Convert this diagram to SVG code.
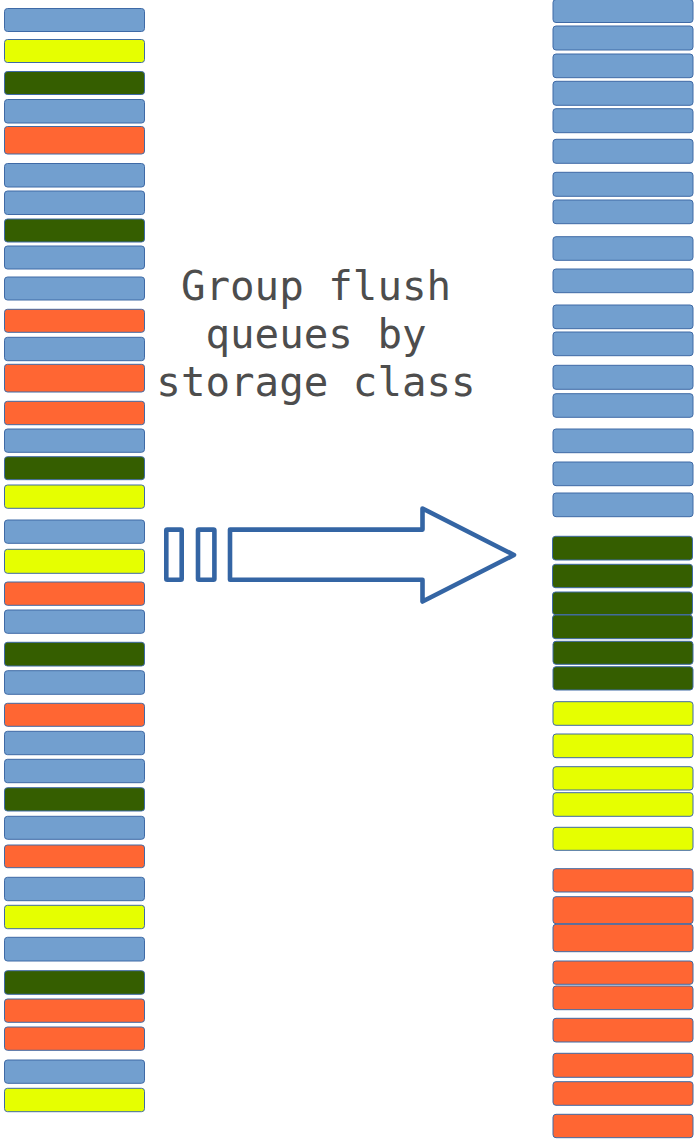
<svg xmlns="http://www.w3.org/2000/svg" width="695" height="1140" viewBox="0 0 695 1140">
<style>
rect.q{stroke:#3f6aa6;stroke-width:1;rx:3;ry:3}
.b{fill:#729fcf}
.g{fill:#355e00}
.y{fill:#e6ff00}
.o{fill:#ff6633}
.lbl{font-family:"DejaVu Sans Mono","Liberation Mono",monospace;font-size:40.8px;fill:#4d4d4d;text-anchor:middle}
.arr{fill:#fff;stroke:#3465a4;stroke-width:4.6;stroke-linejoin:round}
</style>
<rect width="695" height="1140" fill="#fff"/>
<g id="left-queues">
<rect class="q b" x="4.5" y="8.5" width="140" height="23"/>
<rect class="q y" x="4.5" y="39.5" width="140" height="23"/>
<rect class="q g" x="4.5" y="71.5" width="140" height="23"/>
<rect class="q b" x="4.5" y="99.5" width="140" height="23.5"/>
<rect class="q o" x="4.5" y="126.5" width="140" height="27.5"/>
<rect class="q b" x="4.5" y="163.5" width="140" height="23.5"/>
<rect class="q b" x="4.5" y="191" width="140" height="23.5"/>
<rect class="q g" x="4.5" y="219" width="140" height="23"/>
<rect class="q b" x="4.5" y="246" width="140" height="23"/>
<rect class="q b" x="4.5" y="277" width="140" height="23"/>
<rect class="q o" x="4.5" y="309.3" width="140" height="23"/>
<rect class="q b" x="4.5" y="337.3" width="140" height="23.4"/>
<rect class="q o" x="4.5" y="364.3" width="140" height="27.7"/>
<rect class="q o" x="4.5" y="401.3" width="140" height="23.4"/>
<rect class="q b" x="4.5" y="429" width="140" height="23.3"/>
<rect class="q g" x="4.5" y="456.7" width="140" height="23"/>
<rect class="q y" x="4.5" y="485" width="140" height="23.3"/>
<rect class="q b" x="4.5" y="520" width="140" height="23.3"/>
<rect class="q y" x="4.5" y="549.3" width="140" height="24"/>
<rect class="q o" x="4.5" y="582" width="140" height="23.3"/>
<rect class="q b" x="4.5" y="610" width="140" height="23.3"/>
<rect class="q g" x="4.5" y="642.3" width="140" height="23.7"/>
<rect class="q b" x="4.5" y="670.7" width="140" height="23.6"/>
<rect class="q o" x="4.5" y="703.3" width="140" height="23"/>
<rect class="q b" x="4.5" y="731.3" width="140" height="23.4"/>
<rect class="q b" x="4.5" y="759.3" width="140" height="23.4"/>
<rect class="q g" x="4.5" y="787.7" width="140" height="23.3"/>
<rect class="q b" x="4.5" y="816.3" width="140" height="23"/>
<rect class="q o" x="4.5" y="845" width="140" height="22.7"/>
<rect class="q b" x="4.5" y="877.3" width="140" height="23.4"/>
<rect class="q y" x="4.5" y="905.3" width="140" height="23.4"/>
<rect class="q b" x="4.5" y="937.3" width="140" height="23.7"/>
<rect class="q g" x="4.5" y="970.7" width="140" height="23.6"/>
<rect class="q o" x="4.5" y="999" width="140" height="23.3"/>
<rect class="q o" x="4.5" y="1027" width="140" height="23.3"/>
<rect class="q b" x="4.5" y="1060" width="140" height="23.3"/>
<rect class="q y" x="4.5" y="1088.3" width="140" height="23.4"/>
</g>
<g id="right-queues">
<rect class="q b" x="553" y="-0.5" width="140" height="23"/>
<rect class="q b" x="553" y="26" width="140" height="24"/>
<rect class="q b" x="553" y="54" width="140" height="23.7"/>
<rect class="q b" x="553" y="81.3" width="140" height="24"/>
<rect class="q b" x="553" y="108.7" width="140" height="24"/>
<rect class="q b" x="553" y="139.3" width="140" height="24"/>
<rect class="q b" x="553" y="172.3" width="140" height="24"/>
<rect class="q b" x="553" y="200" width="140" height="23.7"/>
<rect class="q b" x="553" y="236.7" width="140" height="23.6"/>
<rect class="q b" x="553" y="269" width="140" height="23.7"/>
<rect class="q b" x="553" y="305" width="140" height="23.7"/>
<rect class="q b" x="553" y="332" width="140" height="23.7"/>
<rect class="q b" x="553" y="365.3" width="140" height="24"/>
<rect class="q b" x="553" y="393.7" width="140" height="23.6"/>
<rect class="q b" x="553" y="429" width="140" height="23.7"/>
<rect class="q b" x="553" y="462" width="140" height="23.7"/>
<rect class="q b" x="553" y="493" width="140" height="23.7"/>
<rect class="q g" x="552.5" y="536.3" width="140" height="23.7"/>
<rect class="q g" x="552.5" y="564.3" width="140" height="23.4"/>
<rect class="q g" x="552.5" y="592" width="140" height="22.7"/>
<rect class="q g" x="552.5" y="615" width="140" height="23.7"/>
<rect class="q g" x="553" y="641.3" width="140" height="23"/>
<rect class="q g" x="553" y="666.7" width="140" height="23.3"/>
<rect class="q y" x="553" y="701.7" width="140" height="23.6"/>
<rect class="q y" x="553" y="734" width="140" height="23.7"/>
<rect class="q y" x="553" y="766.7" width="140" height="23.3"/>
<rect class="q y" x="553" y="792.7" width="140" height="23.6"/>
<rect class="q y" x="553" y="827.3" width="140" height="23"/>
<rect class="q o" x="553" y="868.7" width="140" height="23.3"/>
<rect class="q o" x="553" y="896.7" width="140" height="27"/>
<rect class="q o" x="553" y="924.3" width="140" height="27.4"/>
<rect class="q o" x="553" y="961" width="140" height="23.3"/>
<rect class="q o" x="553" y="986" width="140" height="23.7"/>
<rect class="q o" x="553" y="1018.3" width="140" height="23.7"/>
<rect class="q o" x="553" y="1053.3" width="140" height="24"/>
<rect class="q o" x="553" y="1081.7" width="140" height="23.6"/>
<rect class="q o" x="553" y="1114.3" width="140" height="23.4"/>
</g>
<g id="label">
<text class="lbl" x="316" y="300">Group flush</text>
<text class="lbl" x="316" y="348">queues by</text>
<text class="lbl" x="316" y="396">storage class</text>
</g>
<g id="connectors">
<rect class="arr" x="166.3" y="529.6" width="15.4" height="50.1" rx="1"/>
<rect class="arr" x="198" y="529.6" width="16.4" height="50.1" rx="1"/>
<path class="arr" d="M230,529.6 L422.5,529.6 L422.5,508.5 L514,555 L422.5,601.5 L422.5,579.7 L230,579.7 Z"/>
</g>
</svg>
